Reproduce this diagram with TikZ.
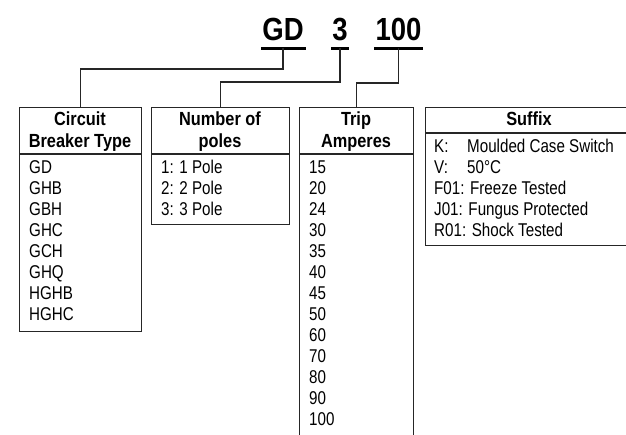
\documentclass[tikz,border=0pt]{standalone}
\usepackage{fontspec}
\setmainfont{Liberation Sans}[FakeStretch=0.82]
\newfontfamily\headfont{Liberation Sans}[FakeStretch=0.86]
\newfontfamily\titlefont{Liberation Sans}[FakeStretch=0.86]
\begin{document}
\begin{tikzpicture}[x=1pt,y=-1pt,
  frame/.style={draw=black!85,line width=1.2pt},
  conn/.style={draw=black!85,line width=1.2pt},
  body/.style={anchor=base west,inner sep=0pt,font=\fontsize{18.5}{21}\selectfont},
  head/.style={anchor=base,inner sep=0pt,font=\headfont\bfseries\fontsize{19}{21}\selectfont},
  ttl/.style={anchor=base,inner sep=0pt,font=\titlefont\bfseries\fontsize{32}{32}\selectfont},
  uline/.style={draw=black,line width=3pt}]
\useasboundingbox (0,0) rectangle (626,434);
\clip (0,0) rectangle (626,434);

% title
\node[ttl] (gd) at (283,40) {GD};
\node[ttl] (n3) at (340,40) {3};
\node[ttl] (n100) at (398.5,40) {100};
\draw[uline] ([xshift=-1pt,yshift=-8pt]gd.base west) -- ([xshift=2pt,yshift=-8pt]gd.base east);
\draw[uline] ([xshift=-1pt,yshift=-8pt]n3.base west) -- ([xshift=1pt,yshift=-8pt]n3.base east);
\draw[uline] ([xshift=-1pt,yshift=-8pt]n100.base west) -- ([xshift=1pt,yshift=-8pt]n100.base east);
\coordinate (ugd) at ([yshift=-8pt]gd.base);
\coordinate (un3) at ([yshift=-8pt]n3.base);
\coordinate (un100) at ([yshift=-8pt]n100.base);

% boxes
\node[frame,anchor=north west,minimum width=122pt,minimum height=224pt,inner sep=0pt] (b1) at (19,107) {};
\node[frame,anchor=north west,minimum width=138pt,minimum height=117pt,inner sep=0pt] (b2) at (151,107) {};
\node[frame,anchor=north west,minimum width=114pt,minimum height=350pt,inner sep=0pt] (b3) at (299,107) {};
\node[frame,anchor=north west,minimum width=208pt,minimum height=138pt,inner sep=0pt] (b4) at (425,107) {};
\draw[frame] ([yshift=-47pt]b1.north west) -- ([yshift=-47pt]b1.north east);
\draw[frame] ([yshift=-47pt]b2.north west) -- ([yshift=-47pt]b2.north east);
\draw[frame] ([yshift=-47pt]b3.north west) -- ([yshift=-47pt]b3.north east);
\draw[frame] ([yshift=-26pt]b4.north west) -- ([yshift=-26pt]b4.north east);

% connectors
\draw[conn] (ugd) -- ++(0,21) -| (b1.north);
\draw[conn] (un3) -- ++(0,34) -| (b2.north);
\draw[conn] (un100) -- ++(0,35) -| (b3.north);

% headers
\node[head] (h1a) at (80,125) {Circuit};
\node[head] (h1b) at (80,147) {Breaker Type};
\node[head] (h2a) at (220,125) {Number of};
\node[head] (h2b) at (220,147) {poles};
\node[head] (h3a) at (356,125) {Trip};
\node[head] (h3b) at (356,147) {Amperes};
\node[head] (h4a) at (529,125) {Suffix};

% body lists
\foreach \t [count=\i from 0] in {GD,GHB,GBH,GHC,GCH,GHQ,HGHB,HGHC}
  \node[body] (l1-\i) at (29,173+21*\i) {\t};
\foreach \t [count=\i from 0] in {1: 1 Pole,2: 2 Pole,3: 3 Pole}
  \node[body] (l2-\i) at (161,173+21*\i) {\t};
\foreach \t [count=\i from 0] in {15,20,24,30,35,40,45,50,60,70,80,90,100}
  \node[body] (l3-\i) at (309,173+21*\i) {\t};

\node[body] (k1) at (434,152) {K:};
\node[body] (k2) at (467,152) {Moulded Case Switch};
\node[body] (v1) at (434,173) {V:};
\node[body] (v2) at (467,173) {50°C};
\node[body] (f1) at (434,194) {F01: Freeze Tested};
\node[body] (j1) at (434,215) {J01: Fungus Protected};
\node[body] (r1) at (434,236) {R01: Shock Tested};
\end{tikzpicture}
\end{document}
